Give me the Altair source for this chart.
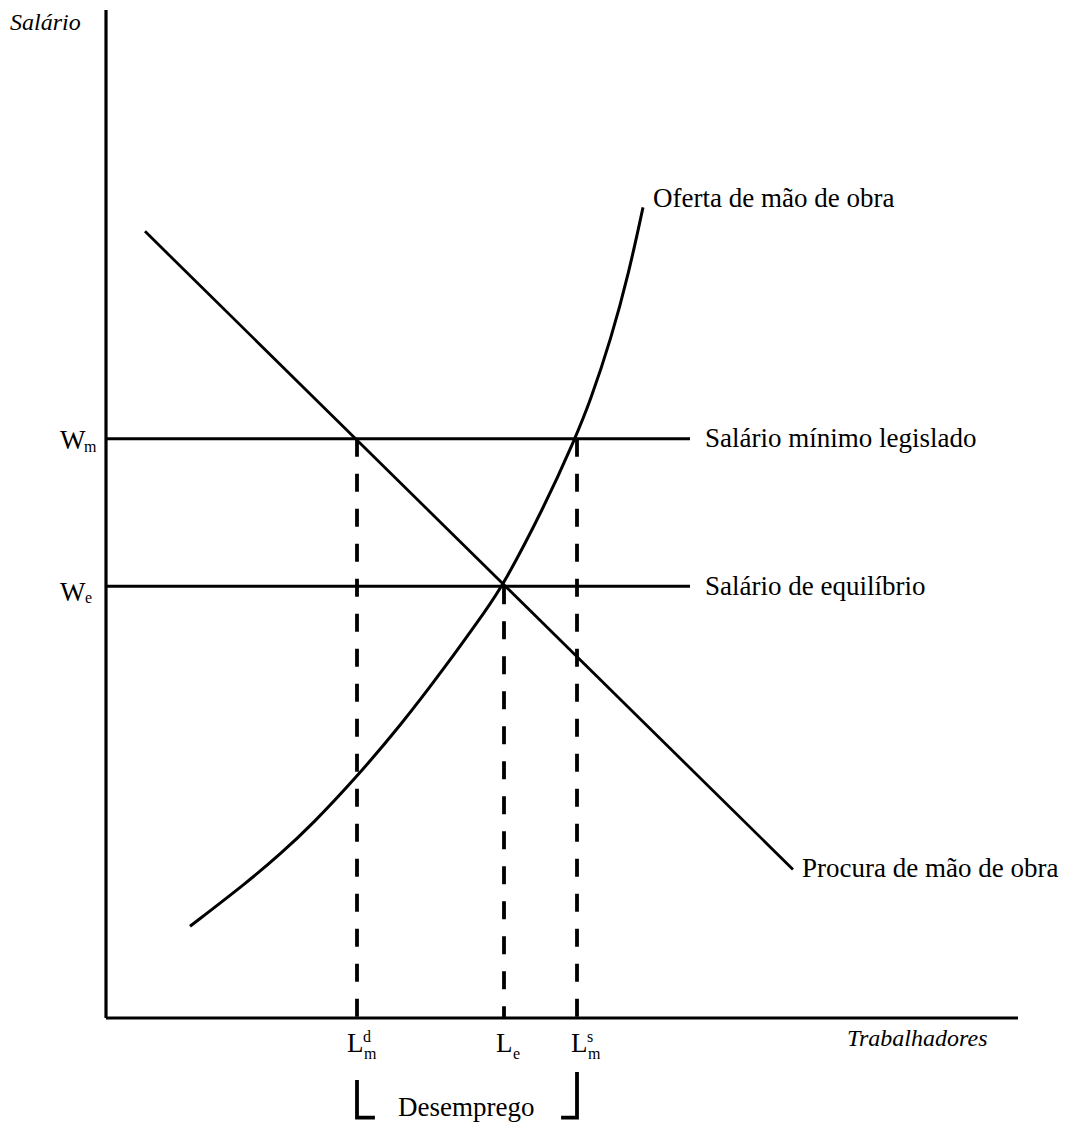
import altair as alt
import pandas as pd

# ---- chart values (arbitrary units) ----
X_MAX = 912          # end of the horizontal axis
Y_MAX = 1011         # top of the vertical axis

W_M = 581            # salário mínimo legislado
W_E = 433            # salário de equilíbrio
H_END = 584          # where the two wage lines stop

L_MD = 251           # labour demanded at the minimum wage
L_E = 398            # equilibrium employment
L_MS = 471           # labour supplied at the minimum wage

demand_x = [39, 687]
demand_y = [789, 149]

supply_x = [84, 141, 174, 207, 250, 295, 337, 382, 397, 438, 469, 484, 505, 523, 537]
supply_y = [92, 136, 164, 195, 241, 294, 349, 412, 434, 512, 581, 618, 681, 748, 813]

FONT = "Liberation Serif"

xs = alt.Scale(domain=[0, X_MAX], nice=False, zero=False)
ys = alt.Scale(domain=[0, Y_MAX], nice=False, zero=False)


def X(f="x"):
    return alt.X(f"{f}:Q", scale=xs, axis=None)


def Y(f="y"):
    return alt.Y(f"{f}:Q", scale=ys, axis=None)


# axes
axes_df = pd.DataFrame({
    "x": [0, 0], "x2": [0, X_MAX],
    "y": [0, 0], "y2": [Y_MAX, 0],
})
axes = alt.Chart(axes_df).mark_rule(color="black", strokeWidth=3.2).encode(
    x=X(), x2="x2:Q", y=Y(), y2="y2:Q"
)

# wage lines
wage_df = pd.DataFrame({"x": [0, 0], "x2": [H_END, H_END], "y": [W_M, W_E]})
wages = alt.Chart(wage_df).mark_rule(color="black", strokeWidth=3).encode(
    x=X(), x2="x2:Q", y=Y()
)

# demand
dem_df = pd.DataFrame({"x": demand_x, "y": demand_y})
demand = alt.Chart(dem_df).mark_line(color="black", strokeWidth=2.8, strokeCap="butt").encode(
    x=X(), y=Y()
)

# supply
sup_df = pd.DataFrame({"x": supply_x, "y": supply_y})
supply = alt.Chart(sup_df).mark_line(
    color="black", strokeWidth=3, interpolate="basis", strokeCap="butt"
).encode(x=X(), y=Y())

# dashed verticals (drawn top to bottom)
dash_df = pd.DataFrame({
    "name": ["d", "d", "e", "e", "s", "s"],
    "ord": [0, 1, 0, 1, 0, 1],
    "x": [L_MD, L_MD, L_E, L_E, L_MS, L_MS],
    "y": [W_M, 0, W_E, 0, W_M, 0],
})
dashes = alt.Chart(dash_df).mark_line(
    color="black", strokeWidth=3.8, strokeDash=[18, 17], strokeCap="butt"
).encode(x=X(), y=Y(), detail="name:N", order="ord:Q")

# bracket for unemployment
br_df = pd.DataFrame({
    "name": ["l", "l", "l", "r", "r", "r"],
    "ord": [0, 1, 2, 0, 1, 2],
    "x": [L_MD, L_MD, L_MD + 16, L_MS, L_MS, L_MS - 14],
    "y": [-64, -100, -100, -56, -100, -100],
})
bracket = alt.Chart(br_df).mark_line(
    color="black", strokeWidth=3.8, strokeJoin="miter", strokeCap="square"
).encode(x=X(), y=Y(), detail="name:N", order="ord:Q")

# ---- texts ----
main_txt = pd.DataFrame({
    "x": [547, 599, 599, 696, 292],
    "y": [813, 573, 424, 141, -98],
    "t": ["Oferta de mão de obra", "Salário mínimo legislado",
          "Salário de equilíbrio", "Procura de mão de obra", "Desemprego"],
})
main_text = alt.Chart(main_txt).mark_text(
    font=FONT, fontSize=27, align="left", baseline="alphabetic", color="black"
).encode(x=X(), y=Y(), text="t:N")

ital_txt = pd.DataFrame({
    "x": [-96, 741],
    "y": [991, -28],
    "t": ["Salário", "Trabalhadores"],
    "s": [24, 24],
})
ital_text = alt.Chart(ital_txt).mark_text(
    font=FONT, fontStyle="italic", align="left", baseline="alphabetic", color="black"
).encode(x=X(), y=Y(), text="t:N", size=alt.Size("s:Q", scale=None, legend=None))

# axis letters
big_txt = pd.DataFrame({
    "x": [-46, -46, 241, 390, 465],
    "y": [W_M - 10, W_E - 15, -34, -34, -34],
    "t": ["W", "W", "L", "L", "L"],
})
big_text = alt.Chart(big_txt).mark_text(
    font=FONT, fontSize=27, align="left", baseline="alphabetic", color="black"
).encode(x=X(), y=Y(), text="t:N")

sub_txt = pd.DataFrame({
    "x": [-22, -21, 258, 407, 482, 257, 481],
    "y": [W_M - 13, W_E - 17, -41, -41, -41, -24, -24],
    "t": ["m", "e", "m", "e", "m", "d", "s"],
})
sub_text = alt.Chart(sub_txt).mark_text(
    font=FONT, fontSize=16, align="left", baseline="alphabetic", color="black"
).encode(x=X(), y=Y(), text="t:N")

chart = alt.layer(
    axes, wages, demand, supply, dashes, bracket,
    main_text, ital_text, big_text, sub_text
).properties(
    width=912, height=1008,
    padding={"left": 98, "top": 2, "right": 51, "bottom": 104},
    autosize="none",
).configure(background="white").configure_view(stroke="transparent", strokeWidth=0)

chart.save("out.html", embed_options={"renderer": "svg", "actions": False})
